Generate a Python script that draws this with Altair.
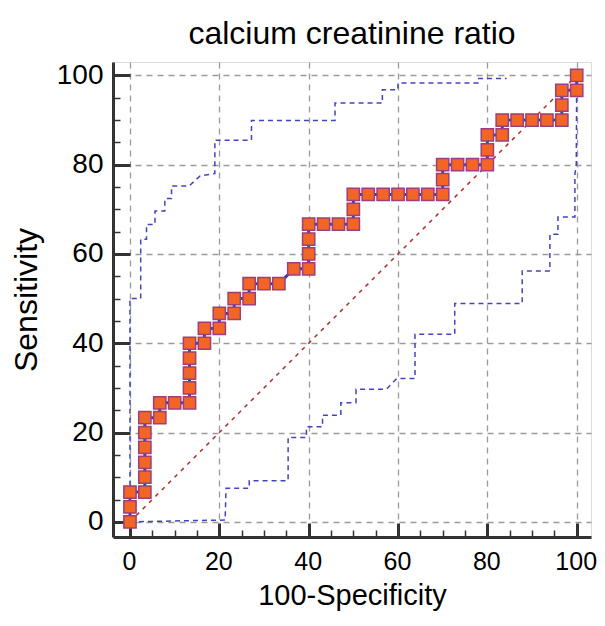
import altair as alt
import pandas as pd

# ---- data ----
roc_x = [0, 0, 0, 3.33, 3.33, 3.33, 3.33, 3.33, 3.33, 6.67, 6.67, 10, 13.33, 13.33, 13.33,
         13.33, 13.33, 16.67, 16.67, 20, 20, 23.33, 23.33, 26.67, 26.67, 30, 33.33, 36.67,
         40, 40, 40, 40, 43.33, 46.67, 50, 50, 50, 53.33, 56.67, 60, 63.33, 66.67, 70, 70,
         70, 73.33, 76.67, 80, 80, 80, 83.33, 83.33, 86.67, 90, 93.33, 96.67, 96.67, 96.67,
         100, 100]
roc_y = [0, 3.33, 6.67, 6.67, 10, 13.33, 16.67, 20, 23.33, 23.33, 26.67, 26.67, 26.67, 30,
         33.33, 36.67, 40, 40, 43.33, 43.33, 46.67, 46.67, 50, 50, 53.33, 53.33, 53.33, 56.67,
         56.67, 60, 63.33, 66.67, 66.67, 66.67, 66.67, 70, 73.33, 73.33, 73.33, 73.33, 73.33,
         73.33, 73.33, 76.67, 80, 80, 80, 80, 83.33, 86.67, 86.67, 90, 90, 90, 90, 90, 93.33,
         96.67, 96.67, 100]

upper_x = [0, 0, 2.4, 2.4, 3.7, 3.7, 5.6, 5.6, 7.8, 7.8, 9.3, 9.3, 13.2, 15.7, 19.0, 19.0,
           27.2, 27.2, 45.9, 45.9, 56.5, 56.5, 60.0, 60.0, 77.9, 77.9, 84.3]
upper_y = [0, 50.0, 50.0, 63.3, 63.3, 66.6, 66.6, 69.6, 69.6, 72.4, 72.4, 75.2, 75.2, 77.5,
           78.0, 85.5, 85.5, 89.9, 89.9, 93.8, 93.8, 96.8, 96.8, 98.3, 98.3, 99.3, 99.3]

lower_x = [0, 15.7, 21.3, 21.5, 26.7, 26.7, 35.4, 35.4, 39.5, 39.5, 43.1, 43.1, 47.2, 47.2,
           50.6, 50.6, 57.4, 59.7, 63.8, 63.8, 72.7, 72.7, 87.8, 87.8, 94.0, 94.0, 95.8,
           95.8, 99.6, 99.6, 99.9, 100]
lower_y = [0, 0.3, 0.4, 7.5, 7.5, 9.2, 9.2, 18.9, 18.9, 21.3, 21.3, 23.9, 23.9, 26.7, 26.7,
           29.7, 29.7, 32.1, 32.1, 42.0, 42.0, 48.9, 48.9, 56.2, 56.2, 64.4, 64.4, 68.3,
           68.3, 78.0, 79.5, 100]

diag_x = [0, 100]
diag_y = [0, 100]

major_ticks = [0, 20, 40, 60, 80, 100]
minor_ticks = [0, 5, 10, 15, 20, 25, 30, 35, 40, 45, 50, 55, 60, 65, 70, 75, 80, 85, 90, 95, 100]

x_domain = [-3.8, 103.2]
y_domain = [-3.4, 103.0]

chart_title = "calcium creatinine ratio"
x_title = "100-Specificity"
y_title = "Sensitivity"

FONT = "Liberation Sans"

# ---- tables ----
roc_df = pd.DataFrame({"x": roc_x, "y": roc_y, "i": range(len(roc_x))})
band_df = pd.concat([
    pd.DataFrame({"x": upper_x, "y": upper_y, "i": range(len(upper_x)), "band": "upper"}),
    pd.DataFrame({"x": lower_x, "y": lower_y, "i": range(len(lower_x)), "band": "lower"}),
])
diag_df = pd.DataFrame({"x": diag_x, "y": diag_y})

xs = alt.Scale(domain=x_domain, nice=False, zero=False)
ys = alt.Scale(domain=y_domain, nice=False, zero=False)

# main axes: grid + major ticks + labels + titles
x_main = alt.Axis(orient="bottom", values=major_ticks, grid=True, gridDash=[6, 5],
                  gridColor="#9a9a9a", gridWidth=1.3, domain=False, ticks=True,
                  tickSize=14, tickWidth=3, tickColor="#333333", offset=-14,
                  labelFont=FONT, labelFontSize=25, labelColor="#000000", labelPadding=12,
                  labelOffset=-1,
                  title=x_title, titleFont=FONT, titleFontSize=29, titleFontWeight="normal",
                  titleColor="#000000", titlePadding=7)
y_main = alt.Axis(orient="left", values=major_ticks, grid=True, gridDash=[6, 5],
                  gridColor="#9a9a9a", gridWidth=1.3, domain=False, ticks=True,
                  tickSize=17, tickWidth=3, tickColor="#333333", offset=-17,
                  labelFont=FONT, labelFontSize=28, labelColor="#000000", labelPadding=10,
                  title=y_title, titleFont=FONT, titleFontSize=32, titleFontWeight="normal",
                  titleColor="#000000", titlePadding=13)
# minor ticks
x_minor = alt.Axis(orient="bottom", values=minor_ticks, grid=False, domain=False,
                   ticks=True, tickSize=7, tickWidth=1.5, tickColor="#333333", offset=-7,
                   labels=False, title=None)
y_minor = alt.Axis(orient="left", values=minor_ticks, grid=False, domain=False,
                   ticks=True, tickSize=7, tickWidth=1.5, tickColor="#333333", offset=-7,
                   labels=False, title=None)
# domain lines
x_dom = alt.Axis(orient="bottom", grid=False, domain=True, domainWidth=3,
                 domainColor="#333333", ticks=False, labels=False, title=None)
y_dom = alt.Axis(orient="left", grid=False, domain=True, domainWidth=3,
                 domainColor="#333333", ticks=False, labels=False, title=None)

diag = alt.Chart(diag_df).mark_line(color="#a83232", strokeDash=[4, 5], strokeWidth=1.5).encode(
    x=alt.X("x:Q", scale=xs, axis=x_main),
    y=alt.Y("y:Q", scale=ys, axis=y_main),
)

bands = alt.Chart(band_df).mark_line(color="#4444b8", strokeDash=[5, 4], strokeWidth=1.5).encode(
    x=alt.X("x:Q", scale=xs, axis=x_minor),
    y=alt.Y("y:Q", scale=ys, axis=y_minor),
    detail="band:N",
    order="i:Q",
)

roc_line = alt.Chart(roc_df).mark_line(color="#3a3aa8", strokeWidth=3).encode(
    x=alt.X("x:Q", scale=xs, axis=x_dom),
    y=alt.Y("y:Q", scale=ys, axis=y_dom),
    order="i:Q",
)

roc_pts = alt.Chart(roc_df).mark_square(size=150, filled=True, color="#f26524",
                                        stroke="#9c3f7c", strokeWidth=1.5, opacity=1).encode(
    x=alt.X("x:Q", scale=xs, axis=None),
    y=alt.Y("y:Q", scale=ys, axis=None),
)

chart = alt.layer(diag, bands, roc_line, roc_pts).resolve_axis(
    x="independent", y="independent"
).properties(
    width=478, height=475,
    padding={"left": 105, "top": 54, "right": 6, "bottom": 75},
    autosize=alt.AutoSizeParams(type="none"),
    title=alt.TitleParams(chart_title, font=FONT, fontSize=32, fontWeight="normal",
                          color="#000000", anchor="middle", offset=10),
).configure_view(stroke=None).configure(background="#ffffff")

chart.save("out.html", embed_options={"renderer": "svg", "actions": False})
